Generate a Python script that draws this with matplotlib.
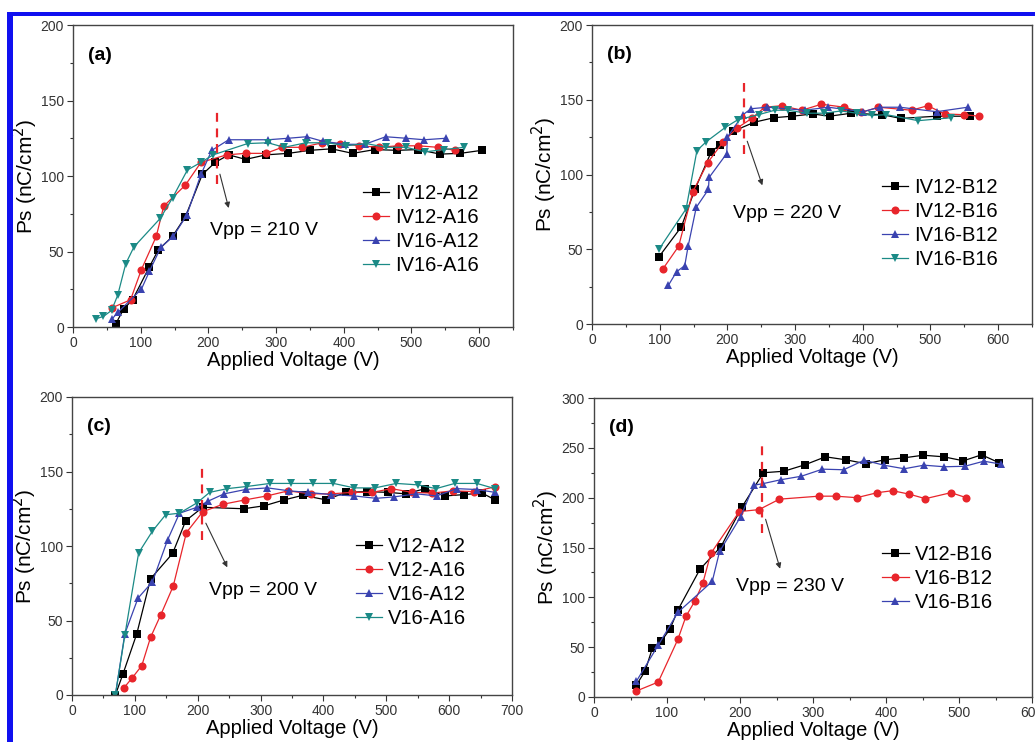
import matplotlib
matplotlib.use("Agg")
import matplotlib.pyplot as plt
from matplotlib.ticker import MultipleLocator
from matplotlib.patches import Rectangle

plt.rcParams['font.family'] = ['Liberation Sans', 'DejaVu Sans']

# ---------------- Panel (a) ----------------
a_labels = ["IV12-A12", "IV12-A16", "IV16-A12", "IV16-A16"]
a_x0 = [63, 75, 88, 113, 126, 147, 166, 191, 210, 230, 255, 285, 318, 350, 382, 413, 446, 479, 510, 542, 572, 604]
a_y0 = [2, 12, 18, 40, 51, 60, 73, 101, 109, 114, 111, 114, 115, 117, 118, 115, 117.5, 117, 117.5, 114.5, 115, 117]
a_x1 = [57, 85, 101, 123, 134, 166, 189, 227, 255, 285, 309, 339, 368, 395, 423, 452, 480, 510, 539, 564]
a_y1 = [12.6, 18, 38, 60, 80, 94, 109, 114, 115, 115, 119, 119, 122, 121.5, 120, 119, 120, 120, 119, 117]
a_x2 = [57, 67, 101, 113, 130, 148, 168, 189, 205, 230, 288, 318, 345, 369, 402, 431, 462, 492, 519, 551]
a_y2 = [5, 10, 25, 37, 53, 60, 74, 101, 117, 124, 124, 125, 126, 123, 121, 121, 126, 125, 124, 125]
a_x3 = [34, 45, 57, 66, 78, 90, 129, 147, 169, 189, 207, 258, 288, 312, 344, 376, 403, 433, 462, 492, 520, 548, 578]
a_y3 = [5.5, 7, 11, 21, 42, 53, 72, 85.5, 104, 109, 114, 121.5, 122, 119, 122, 122, 120, 121.5, 119, 119, 116, 117.5, 119]

# ---------------- Panel (b) ----------------
b_labels = ["IV12-B12", "IV12-B16", "IV16-B12", "IV16-B16"]
b_x0 = [99, 132, 152, 176, 189, 209, 240, 269, 296, 326, 351, 383, 429, 456, 509, 559]
b_y0 = [45, 65, 90, 115, 120, 129, 135, 138, 139, 140.5, 139, 141, 140, 137.5, 139, 139]
b_x1 = [105, 128, 149, 171, 194, 214, 236, 255, 280, 310, 339, 373, 398, 423, 472, 496, 521, 550, 572]
b_y1 = [37, 52, 88.5, 108, 122, 131, 137.5, 145, 146, 143, 147, 145, 141.5, 145, 143, 146, 140.5, 140, 139]
b_x2 = [113, 125, 137, 142, 154, 172, 173, 199, 200, 223, 235, 259, 314, 349, 400, 425, 455, 509, 555]
b_y2 = [26, 35, 39, 52, 78, 90, 98, 114, 125, 140, 144, 145, 143, 145, 142, 145, 145, 142, 145]
b_x3 = [99, 139, 155, 169, 197, 215, 246, 270, 289, 317, 342, 368, 391, 413, 435, 482, 531]
b_y3 = [50, 77, 116, 122, 131.5, 136.5, 140, 143, 143, 141, 141, 142.5, 141, 139.5, 140, 136, 138]

# ---------------- Panel (c) ----------------
c_labels = ["V12-A12", "V12-A16", "V16-A12", "V16-A16"]
c_x0 = [69, 81, 103, 125, 160, 181, 208, 273, 306, 338, 367, 404, 436, 470, 503, 531, 562, 593, 624, 652, 673]
c_y0 = [0, 14, 41, 78, 95, 117, 126, 125, 127, 131, 134, 131, 136, 136.5, 136, 135, 138.5, 133.6, 134.5, 135.6, 131]
c_x1 = [82, 96, 111, 125, 141, 161, 182, 208, 240, 276, 310, 344, 380, 412, 446, 478, 508, 541, 573, 606, 640, 673]
c_y1 = [4.5, 11.6, 19.7, 38.7, 53.6, 73, 109, 123, 128, 131, 133.6, 137, 135, 135, 136, 136, 138.5, 136, 135.5, 137, 136.5, 139.7]
c_x2 = [69, 84, 105, 128, 152, 171, 199, 216, 242, 277, 311, 346, 375, 412, 449, 484, 513, 548, 580, 612, 644, 673]
c_y2 = [0, 41, 65, 76, 104, 122, 126, 130, 135, 138, 139, 137, 136, 134.5, 133.6, 132, 133, 135, 133.6, 138.5, 137.9, 136]
c_x3 = [69, 84, 106, 128, 149, 171, 199, 219, 247, 279, 315, 348, 383, 416, 449, 482, 516, 551, 579, 609, 644, 673]
c_y3 = [0, 40, 95.4, 110, 121, 122, 129, 136, 138.5, 140, 142, 142, 142, 142, 139, 139, 142, 141, 138.5, 142, 142, 138.5]

# ---------------- Panel (d) ----------------
d_labels = ["V12-B16", "V16-B12", "V16-B16"]
d_x0 = [58, 70, 80, 92, 104, 115, 145, 174, 203, 232, 260, 289, 317, 345, 373, 398, 425, 451, 479, 506, 531, 555]
d_y0 = [12, 26, 49, 56, 68, 87.4, 128, 151, 191, 225, 226.5, 233, 241, 238, 234, 238, 240, 242.6, 241, 237, 243, 235]
d_x1 = [58, 88, 115, 126, 138, 149, 160, 199, 226, 254, 308, 331, 360, 388, 409, 432, 454, 489, 510]
d_y1 = [6, 15, 58, 81, 96, 114, 144, 186, 188, 198.5, 201.5, 201.5, 200, 205, 207, 203.5, 199, 205, 200]
d_x2 = [58, 88, 115, 162, 172, 201, 219, 231, 256, 284, 313, 342, 370, 397, 425, 452, 480, 508, 534, 558]
d_y2 = [15.7, 52, 85, 116, 146, 181, 212.5, 214, 218, 221.5, 228.6, 228, 237.6, 232.6, 229, 232.6, 231, 231.5, 236.6, 233.6]

panel_tags = ["(a)", "(b)", "(c)", "(d)"]
vpp_values = [210, 220, 200, 230]
vpp_line_x = [212, 224, 207, 230]

colors = ["#000000", "#e8252b", "#3a43b0", "#1b8a86"]
markers = ["s", "o", "^", "v"]

W, H = 1035, 742
fig = plt.figure(figsize=(W / 100, H / 100), dpi=100)

def ax_at(l, t, r, b):
    return fig.add_axes([l / W, 1 - b / H, (r - l) / W, (b - t) / H])

axes = [ax_at(73, 25, 513, 327), ax_at(592, 25, 1032, 324),
        ax_at(72, 397, 512, 695), ax_at(594, 398, 1032, 697)]

series = [
    [(a_x0, a_y0), (a_x1, a_y1), (a_x2, a_y2), (a_x3, a_y3)],
    [(b_x0, b_y0), (b_x1, b_y1), (b_x2, b_y2), (b_x3, b_y3)],
    [(c_x0, c_y0), (c_x1, c_y1), (c_x2, c_y2), (c_x3, c_y3)],
    [(d_x0, d_y0), (d_x1, d_y1), (d_x2, d_y2)],
]
labels = [a_labels, b_labels, c_labels, d_labels]
xlims = [(0, 650), (0, 650), (0, 700), (0, 600)]
ylims = [(0, 200), (0, 200), (0, 200), (0, 300)]
ymajor = [50, 50, 50, 50]
vline_y = [(95, 144), (114, 161), (104, 153), (165, 254)]
arrow_from = [(216, 103), (228, 124), (211, 117), (234, 181)]
arrow_to = [(231, 77), (253, 91), (249, 84), (256, 126)]
text_pos = [(202, 64), (209, 74), (218, 70), (195, 111)]
legend_anchor = [(0.64, 0.50), (0.64, 0.515), (0.627, 0.557), (0.64, 0.535)]

for i, ax in enumerate(axes):
    if i == 3:
        cols = [colors[0], colors[1], colors[2]]
        mks = [markers[0], markers[1], markers[2]]
    else:
        cols, mks = colors, markers
    for (xs, ys), lab, c, m in zip(series[i], labels[i], cols, mks):
        ax.plot(xs, ys, color=c, marker=m, markersize=5.8, linewidth=0.9,
                markeredgewidth=0, label=lab)
    ax.set_xlim(*xlims[i])
    ax.set_ylim(*ylims[i])
    ax.xaxis.set_major_locator(MultipleLocator(100))
    ax.xaxis.set_minor_locator(MultipleLocator(50))
    ax.yaxis.set_major_locator(MultipleLocator(ymajor[i]))
    ax.yaxis.set_minor_locator(MultipleLocator(ymajor[i] / 2))
    ax.tick_params(axis='both', which='major', direction='out', length=4,
                   width=0.8, labelsize=10, colors='#333333', labelcolor='#333333',
                   top=False, right=False, pad=2.5)
    ax.tick_params(axis='both', which='minor', direction='out', length=2.5,
                   width=0.8, top=False, right=False, colors='#333333')
    for sp in ax.spines.values():
        sp.set_linewidth(1.0)
        sp.set_color('#444444')
    ax.set_xlabel("Applied Voltage (V)", fontsize=14.5, labelpad=1)
    ax.set_ylabel("Ps (nC/cm$^2$)", fontsize=15, labelpad=0.5)
    ax.text(0.035, 0.9, panel_tags[i], transform=ax.transAxes, fontsize=14,
            fontweight='bold', va='center', ha='left')
    ax.plot([vpp_line_x[i], vpp_line_x[i]], vline_y[i], color='#e8252b',
            linestyle=(0, (4, 3)), linewidth=1.6)
    ax.annotate("", xy=arrow_to[i], xytext=arrow_from[i],
                arrowprops=dict(arrowstyle='-|>', color='#333333', lw=0.8,
                                mutation_scale=8))
    ax.text(text_pos[i][0], text_pos[i][1], "Vpp = %d V" % vpp_values[i],
            fontsize=14, va='center', ha='left')
    ax.legend(loc='upper left', bbox_to_anchor=legend_anchor[i], frameon=False,
              fontsize=14.5, handlelength=1.3, handletextpad=0.3,
              labelspacing=0.25, borderaxespad=0)

# blue frame lines around the figure (top and left)
fig.add_artist(Rectangle((7 / W, 0), 6 / W, 1 - 12 / H, transform=fig.transFigure,
                         color='#1010f0', lw=0))
fig.add_artist(Rectangle((7 / W, 1 - 16 / H), 1 - 7 / W, 4 / H, transform=fig.transFigure,
                         color='#1010f0', lw=0))

fig.savefig("out.png", dpi=100)
